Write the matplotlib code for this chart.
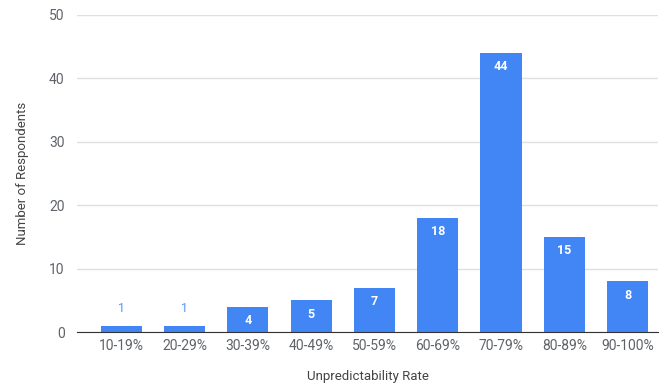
import numpy as np
import matplotlib.pyplot as plt

categories = ["10-19%", "20-29%", "30-39%", "40-49%", "50-59%",
              "60-69%", "70-79%", "80-89%", "90-100%"]
respondents = [1, 1, 4, 5, 7, 18, 44, 15, 8]

plt.rcParams["font.family"] = ["Roboto", "DejaVu Sans"]

bar_color = "#4285f4"
text_gray = "#5f6368"

fig = plt.figure(figsize=(6.6, 3.84), dpi=100)
ax = fig.add_axes([77 / 660, 1 - 332 / 384, (658 - 77) / 660, (332 - 15) / 384])

x = np.arange(len(categories))
ax.bar(x, respondents, width=0.65, color=bar_color, zorder=3)

# Value labels: inside the bar when it is tall enough, above otherwise
for xi, v in zip(x, respondents):
    if v >= 3:
        ax.annotate(str(v), (xi, v), xytext=(0, -10), textcoords="offset points",
                    ha="center", va="center", color="white",
                    fontsize=9, fontweight="bold", zorder=4)
    else:
        ax.annotate(str(v), (xi, v), xytext=(0, 12), textcoords="offset points",
                    ha="center", va="center", color="#5a93f5",
                    fontsize=9, zorder=4)

ax.set_xlim(-0.70, 8.48)
ax.set_ylim(0, 50)
ax.set_yticks(np.arange(0, 51, 10))
ax.set_xticks(x)
ax.set_xticklabels(categories)

ax.grid(axis="y", color="#e0e0e0", linewidth=1, zorder=0)
ax.tick_params(axis="both", length=0, labelsize=10, colors=text_gray)
ax.tick_params(axis="x", pad=5)
ax.tick_params(axis="y", pad=9)

for name, spine in ax.spines.items():
    spine.set_visible(name == "bottom")
ax.spines["bottom"].set_color("#333333")
ax.spines["bottom"].set_zorder(5)

ax.set_xlabel("Unpredictability Rate", fontsize=9.5, color="#444444", labelpad=12)
ax.set_ylabel("Number of Respondents", fontsize=9.5, color="#444444", labelpad=14)

fig.savefig("out.png", dpi=100)
